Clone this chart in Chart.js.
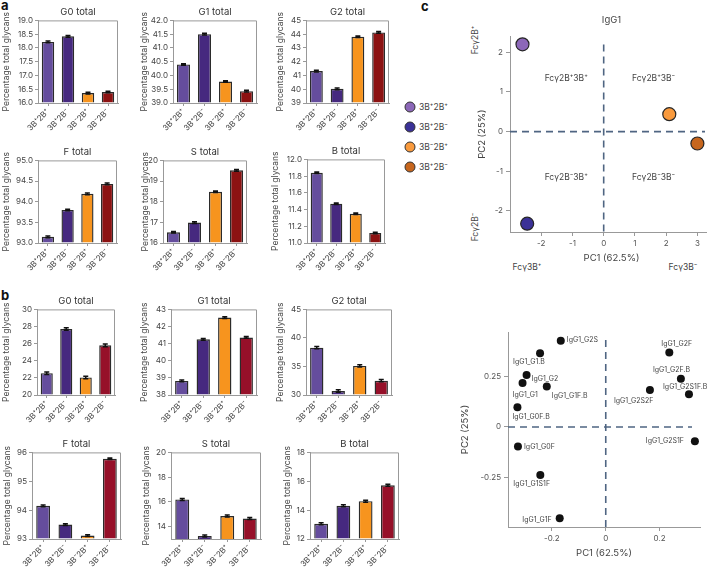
<!DOCTYPE html>
<html>
<head>
<meta charset="utf-8">
<script src="https://cdn.jsdelivr.net/npm/chart.js@4.4.1/dist/chart.umd.min.js"></script>
<style>
  body { margin: 0; background: #fff; }
  #fig { position: relative; width: 707px; height: 567px; overflow: hidden; font-family: Inter, "Open Sans", sans-serif; color: #444; }
  #fig canvas { position: absolute; }
  .tx { position: absolute; white-space: nowrap; font-size: 8.5px; line-height: 1; }
  .rot { transform: translate(-50%, -50%) rotate(-90deg); }
  .ctr { transform: translate(-50%, -50%); }
  .letter { font-weight: bold; font-size: 13px; color: #111; }
  .dot { position: absolute; width: 11px; height: 11px; border-radius: 50%; border: 1px solid #333; box-sizing: border-box; transform: translate(-50%, -50%); }
</style>
</head>
<body>
<div id="fig">
  <div class="tx letter" style="left:1px;top:-1px">a</div>
  <div class="tx letter" style="left:1px;top:289px">b</div>
  <div class="tx letter" style="left:421px;top:0px">c</div>

  <div class="dot" style="left:410px;top:107px;background:#8c67b8"></div>
  <div class="dot" style="left:410px;top:127px;background:#3b3197"></div>
  <div class="dot" style="left:410px;top:147px;background:#f99a3d"></div>
  <div class="dot" style="left:410px;top:167px;background:#c7661d"></div>
  <div class="tx" style="left:419px;top:103px">3B⁺2B⁺</div>
  <div class="tx" style="left:419px;top:123px">3B⁺2B⁻</div>
  <div class="tx" style="left:419px;top:143px">3B⁻2B⁺</div>
  <div class="tx" style="left:419px;top:163px">3B⁺2B⁻</div>

  <div class="tx rot" style="left:475px;top:40px">Fcγ2B⁺</div>
  <div class="tx rot" style="left:475px;top:227px">Fcγ2B⁻</div>
  <div class="tx ctr" style="left:527px;top:267px">Fcγ3B⁺</div>
  <div class="tx ctr" style="left:683px;top:267px">Fcγ3B⁻</div>
</div>
<script>
// groups shown on every bar panel
const groups = ['3B⁺2B⁺', '3B⁺2B⁻', '3B⁻2B⁺', '3B⁻2B⁻'];
const colorsA = ['#654d9d', '#46297f', '#f7941e', '#8c1212'];
const colorsB = ['#654d9d', '#46297f', '#f7941e', '#961029'];

// panel a
const aG0 = [18.22, 18.42, 16.36, 16.40];
const aG0Err = [0.03, 0.03, 0.03, 0.03];
const aG0Ticks = [16.0, 16.5, 17.0, 17.5, 18.0, 18.5, 19.0];
const aG1 = [40.40, 41.50, 39.78, 39.43];
const aG1Err = [0.03, 0.03, 0.03, 0.03];
const aG1Ticks = [39.0, 39.5, 40.0, 40.5, 41.0, 41.5, 42.0];
const aG2 = [41.32, 40.03, 43.81, 44.13];
const aG2Err = [0.06, 0.06, 0.06, 0.06];
const aG2Ticks = [39, 40, 41, 42, 43, 44, 45];
const aF = [93.15, 93.80, 94.19, 94.43];
const aFErr = [0.02, 0.02, 0.02, 0.02];
const aFTicks = [93.0, 93.5, 94.0, 94.5, 95.0];
const aS = [16.52, 16.99, 18.48, 19.52];
const aSErr = [0.04, 0.04, 0.04, 0.04];
const aSTicks = [16, 17, 18, 19, 20];
const aB = [11.84, 11.47, 11.35, 11.12];
const aBErr = [0.008, 0.008, 0.008, 0.008];
const aBTicks = [11.0, 11.2, 11.4, 11.6, 11.8, 12.0];

// panel b
const bG0 = [22.55, 27.70, 22.05, 25.80];
const bG0Err = [0.15, 0.15, 0.15, 0.15];
const bG0Ticks = [20, 22, 24, 26, 28, 30];
const bG1 = [38.82, 41.25, 42.52, 41.36];
const bG1Err = [0.05, 0.05, 0.05, 0.05];
const bG1Ticks = [38, 39, 40, 41, 42, 43];
const bG2 = [38.30, 30.70, 35.10, 32.50];
const bG2Err = [0.2, 0.2, 0.2, 0.2];
const bG2Ticks = [30, 35, 40, 45];
const bF = [94.15, 93.50, 93.12, 95.78];
const bFErr = [0.03, 0.03, 0.03, 0.03];
const bFTicks = [93, 94, 95, 96];
const bS = [16.20, 13.25, 14.85, 14.65];
const bSErr = [0.08, 0.08, 0.08, 0.08];
const bSTicks = [14, 16, 18, 20];
const bB = [13.05, 14.30, 14.62, 15.72];
const bBErr = [0.07, 0.07, 0.07, 0.07];
const bBTicks = [12, 14, 16, 18];

// panel c, top: group scores
const groupNames = ['3B⁺2B⁺', '3B⁺2B⁻', '3B⁻2B⁺', '3B⁺2B⁻'];
const groupPC1 = [-2.60, -2.45, 2.10, 3.00];
const groupPC2 = [2.20, -2.32, 0.44, -0.30];
const groupColors = ['#8c67b8', '#3b3197', '#f99a3d', '#c7661d'];
const scoreXTicks = [-2, -1, 0, 1, 2, 3];
const scoreYTicks = [-2, -1, 0, 1, 2];
const quadrants = ['Fcγ2B⁺3B⁺', 'Fcγ2B⁺3B⁻', 'Fcγ2B⁻3B⁺', 'Fcγ2B⁻3B⁻'];

// panel c, bottom: loadings
const loadNames = ['IgG1_G2S', 'IgG1_G1.B', 'IgG1_G2', 'IgG1_G1', 'IgG1_G1F.B', 'IgG1_G0F.B', 'IgG1_G0F',
  'IgG1_G1S1F', 'IgG1_G1F', 'IgG1_G2F', 'IgG1_G2F.B', 'IgG1_G2S1F.B', 'IgG1_G2S2F', 'IgG1_G2S1F'];
const loadPC1 = [-0.167, -0.244, -0.294, -0.309, -0.219, -0.328, -0.326, -0.243, -0.171, 0.236, 0.279, 0.309, 0.164, 0.331];
const loadPC2 = [0.427, 0.365, 0.257, 0.218, 0.200, 0.097, -0.097, -0.238, -0.452, 0.368, 0.239, 0.162, 0.183, -0.071];
const loadXTicks = [-0.2, 0, 0.2];
const loadYTicks = [-0.25, 0, 0.25];

Chart.defaults.font.family = 'Inter, "Open Sans", sans-serif';
Chart.defaults.color = '#444';

const fig = document.getElementById('fig');
function makeCanvas(left, top, width, height) {
  const c = document.createElement('canvas');
  c.width = width; c.height = height;
  c.style.left = left + 'px'; c.style.top = top + 'px';
  c.style.width = width + 'px'; c.style.height = height + 'px';
  fig.appendChild(c);
  return c;
}

// top and right spines of the bar panels
const frame = {
  id: 'frame',
  afterDraw(chart) {
    const a = chart.chartArea, ctx = chart.ctx;
    ctx.save();
    ctx.strokeStyle = '#999'; ctx.lineWidth = 1;
    ctx.beginPath();
    ctx.moveTo(a.left, a.top + 0.5); ctx.lineTo(a.right - 0.5, a.top + 0.5); ctx.lineTo(a.right - 0.5, a.bottom);
    ctx.stroke();
    ctx.restore();
  }
};

const errorBars = {
  id: 'errorBars',
  afterDatasetsDraw(chart) {
    const ds = chart.data.datasets[0];
    const meta = chart.getDatasetMeta(0);
    const y = chart.scales.y, ctx = chart.ctx;
    ctx.save();
    ctx.strokeStyle = '#111'; ctx.lineWidth = 1.5;
    meta.data.forEach((bar, i) => {
      const top = y.getPixelForValue(ds.data[i] + ds.errors[i]);
      const bot = y.getPixelForValue(ds.data[i] - ds.errors[i]);
      ctx.beginPath();
      ctx.moveTo(bar.x, top); ctx.lineTo(bar.x, bot);
      ctx.moveTo(bar.x - 2.5, top); ctx.lineTo(bar.x + 2.5, top);
      ctx.moveTo(bar.x - 2.5, bot); ctx.lineTo(bar.x + 2.5, bot);
      ctx.stroke();
    });
    ctx.restore();
  }
};

const panels = [
  { title: 'G0 total', values: aG0, errs: aG0Err, ticks: aG0Ticks, min: 16, max: 19, dec: 1, colors: colorsA, box: [38, 21, 118, 103], gap: 32 },
  { title: 'G1 total', values: aG1, errs: aG1Err, ticks: aG1Ticks, min: 39, max: 42, dec: 1, colors: colorsA, box: [173, 21, 257, 103], gap: 29 },
  { title: 'G2 total', values: aG2, errs: aG2Err, ticks: aG2Ticks, min: 39, max: 45, dec: 0, colors: colorsA, box: [306, 21, 389, 103], gap: 26 },
  { title: 'F total', values: aF, errs: aFErr, ticks: aFTicks, min: 93, max: 95, dec: 1, colors: colorsA, box: [38, 161, 117, 243], gap: 32 },
  { title: 'S total', values: aS, errs: aSErr, ticks: aSTicks, min: 16, max: 20, dec: 0, colors: colorsA, box: [163, 161, 247, 243], gap: 18 },
  { title: 'B total', values: aB, errs: aBErr, ticks: aBTicks, min: 11, max: 12, dec: 1, colors: colorsA, box: [307, 160, 385, 243], gap: 32 },
  { title: 'G0 total', values: bG0, errs: bG0Err, ticks: bG0Ticks, min: 20, max: 30, dec: 0, colors: colorsB, box: [37, 310, 115, 395], gap: 31 },
  { title: 'G1 total', values: bG1, errs: bG1Err, ticks: bG1Ticks, min: 38, max: 43, dec: 0, colors: colorsB, box: [171, 310, 257, 395], gap: 27 },
  { title: 'G2 total', values: bG2, errs: bG2Err, ticks: bG2Ticks, min: 30, max: 45, dec: 0, colors: colorsB, box: [306, 310, 392, 395], gap: 26 },
  { title: 'F total', values: bF, errs: bFErr, ticks: bFTicks, min: 93, max: 96, dec: 0, colors: colorsB, box: [32, 453, 121, 539], gap: 25 },
  { title: 'S total', values: bS, errs: bSErr, ticks: bSTicks, min: 13, max: 20, dec: 0, colors: colorsB, box: [171, 453, 261, 539], gap: 25 },
  { title: 'B total', values: bB, errs: bBErr, ticks: bBTicks, min: 12, max: 18, dec: 0, colors: colorsB, box: [310, 453, 399, 539], gap: 23 }
];

function drawBars(p) {
  const [l, t, r, b] = p.box;
  const yW = p.gap + 5;
  const cl = l - yW, ct = t - 18;
  const canvas = makeCanvas(cl, ct, r + 2 - cl, b + 34 - ct);
  new Chart(canvas, {
    type: 'bar',
    data: {
      labels: groups,
      datasets: [{
        data: p.values, errors: p.errs, base: p.min,
        backgroundColor: p.colors, borderColor: '#2b2b2b', borderWidth: 1.4,
        barPercentage: 0.62, categoryPercentage: 1
      }]
    },
    options: {
      responsive: false, animation: false,
      layout: { padding: { left: 0, right: 2, top: 0, bottom: 2 } },
      plugins: {
        legend: { display: false }, tooltip: { enabled: false },
        title: { display: true, text: p.title, fullSize: false, color: '#333',
          font: { size: 9.5, weight: 'normal' }, padding: { top: 3, bottom: 3 } }
      },
      scales: {
        x: {
          afterFit: s => { s.height = 32; },
          ticks: { font: { size: 8 }, color: '#444', autoSkip: false, minRotation: 45, maxRotation: 45, padding: 1 },
          grid: { drawOnChartArea: false, offset: false, tickLength: 3, color: '#999' },
          border: { color: '#999' }
        },
        y: {
          min: p.min, max: p.max,
          afterBuildTicks: s => { s.ticks = p.ticks.map(v => ({ value: v })); },
          afterFit: s => { s.width = yW; },
          ticks: { font: { size: 8 }, color: '#444', padding: 2, callback: v => v.toFixed(p.dec) },
          grid: { drawOnChartArea: false, tickLength: 3, color: '#999' },
          border: { color: '#999' },
          title: { display: true, text: 'Percentage total glycans', font: { size: 8.5 }, color: '#444', padding: 0 }
        }
      }
    },
    plugins: [frame, errorBars]
  });
}
panels.forEach(drawBars);

// dashed zero lines for both PCA plots
const zeroLines = {
  id: 'zeroLines',
  beforeDatasetsDraw(chart) {
    const a = chart.chartArea, ctx = chart.ctx;
    const x0 = chart.scales.x.getPixelForValue(0), y0 = chart.scales.y.getPixelForValue(0);
    ctx.save();
    ctx.strokeStyle = '#4f6582'; ctx.lineWidth = 1.6; ctx.setLineDash([7, 5]);
    ctx.beginPath();
    ctx.moveTo(x0, a.top + 8); ctx.lineTo(x0, a.bottom);
    ctx.moveTo(a.left, y0); ctx.lineTo(a.right - 8, y0);
    ctx.stroke();
    ctx.restore();
  }
};

const quadrantPos = [[-1.2, 1.35], [1.6, 1.35], [-1.2, -1.15], [1.6, -1.15]];
const quadrantText = {
  id: 'quadrantText',
  afterDatasetsDraw(chart) {
    const ctx = chart.ctx, xs = chart.scales.x, ys = chart.scales.y;
    ctx.save();
    ctx.font = '8.5px Inter, "Open Sans", sans-serif';
    ctx.fillStyle = '#444'; ctx.textAlign = 'center'; ctx.textBaseline = 'middle';
    quadrants.forEach((q, i) => {
      ctx.fillText(q, xs.getPixelForValue(quadrantPos[i][0]), ys.getPixelForValue(quadrantPos[i][1]));
    });
    ctx.restore();
  }
};

function pcaScales(xmin, xmax, ymin, ymax, xt, yt, yW, xH, yPad, xPad) {
  return {
    x: {
      type: 'linear', min: xmin, max: xmax,
      afterBuildTicks: s => { s.ticks = xt.map(v => ({ value: v })); },
      afterFit: s => { s.height = xH; },
      ticks: { font: { size: 8 }, color: '#555', padding: 3, callback: v => String(v) },
      grid: { drawOnChartArea: false, tickLength: 4, color: '#999' },
      border: { color: '#999' },
      title: { display: true, text: 'PC1 (62.5%)', font: { size: 9.5 }, color: '#444', padding: { top: 0, bottom: xPad } }
    },
    y: {
      type: 'linear', min: ymin, max: ymax,
      afterBuildTicks: s => { s.ticks = yt.map(v => ({ value: v })); },
      afterFit: s => { s.width = yW; },
      ticks: { font: { size: 8 }, color: '#555', padding: 3, callback: v => String(v) },
      grid: { drawOnChartArea: false, tickLength: 4, color: '#999' },
      border: { color: '#999' },
      title: { display: true, text: 'PC2 (25%)', font: { size: 9.5 }, color: '#444', padding: { top: yPad, bottom: 0 } }
    }
  };
}

// scores plot
new Chart(makeCanvas(462, 0, 260, 280), {
  type: 'scatter',
  data: {
    labels: groupNames,
    datasets: [{
      data: groupPC1.map((x, i) => ({ x: x, y: groupPC2[i] })),
      backgroundColor: groupColors, borderColor: '#262626', borderWidth: 1.2,
      pointRadius: 6.5, clip: false
    }]
  },
  options: {
    responsive: false, animation: false,
    layout: { padding: { left: 14, right: 9, top: 0, bottom: 16 } },
    plugins: {
      legend: { display: false }, tooltip: { enabled: false },
      title: { display: true, text: 'IgG1', fullSize: false, color: '#444',
        font: { size: 9.5, weight: 'normal' }, padding: { top: 14, bottom: 11 } }
    },
    scales: pcaScales(-3.0, 3.5, -2.53, 2.4, scoreXTicks, scoreYTicks, 34, 32, 0, 0)
  },
  plugins: [zeroLines, quadrantText]
});

// loadings plot
const loadLabelPos = [[6, -1, 'left'], [-27, 9, 'left'], [5, 4, 'left'], [-10, 12, 'left'], [5, 9, 'left'],
  [-5, 10, 'left'], [6, 0, 'left'], [-27, 9, 'left'], [-8, 2, 'right'], [-8, -9, 'left'],
  [-28, -9, 'left'], [-26, -7, 'left'], [-36, 11, 'left'], [-11, 0, 'right']];
const loadText = {
  id: 'loadText',
  afterDatasetsDraw(chart) {
    const ctx = chart.ctx, meta = chart.getDatasetMeta(0);
    ctx.save();
    ctx.font = '7px Inter, "Open Sans", sans-serif';
    ctx.fillStyle = '#444'; ctx.textBaseline = 'middle';
    meta.data.forEach((pt, i) => {
      const [dx, dy, al] = loadLabelPos[i];
      ctx.textAlign = al;
      ctx.fillText(loadNames[i], pt.x + dx, pt.y + dy);
    });
    ctx.restore();
  }
};

new Chart(makeCanvas(450, 318, 265, 249), {
  type: 'scatter',
  data: {
    labels: loadNames,
    datasets: [{
      data: loadPC1.map((x, i) => ({ x: x, y: loadPC2[i] })),
      backgroundColor: '#111', borderColor: '#111', borderWidth: 0,
      pointRadius: 4, clip: false
    }]
  },
  options: {
    responsive: false, animation: false,
    layout: { padding: { left: 0, right: 15, top: 14, bottom: 0 } },
    plugins: { legend: { display: false }, tooltip: { enabled: false } },
    scales: pcaScales(-0.363, 0.35, -0.495, 0.47, loadXTicks, loadYTicks, 58, 40, 9, 8)
  },
  plugins: [zeroLines, loadText]
});
</script>
</body>
</html>
